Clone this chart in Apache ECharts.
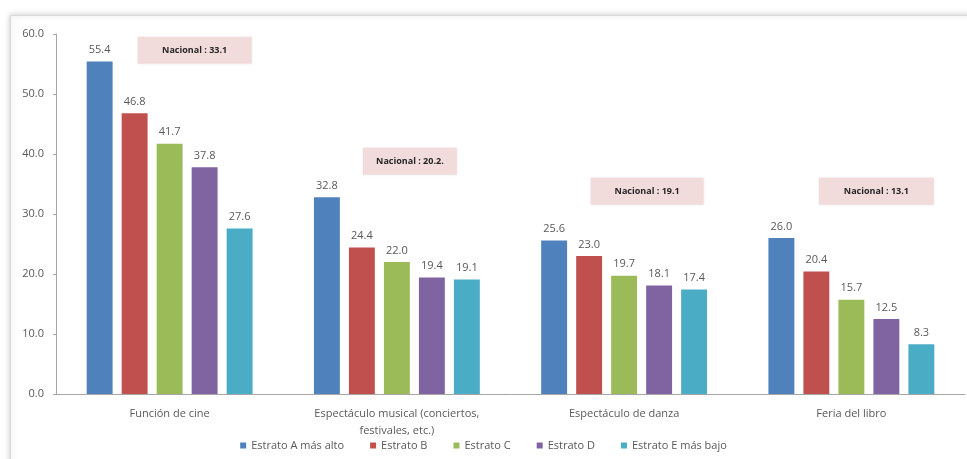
<!DOCTYPE html>
<html><head><meta charset="utf-8">
<script src="https://cdn.jsdelivr.net/npm/echarts@6/dist/echarts.min.js"></script>
<style>html,body{margin:0;padding:0;background:#fff}#c{width:967px;height:459px}</style>
</head><body><div id="c"></div>
<script>
const categories = ['Función de cine', 'Espectáculo musical (conciertos,\nfestivales, etc.)', 'Espectáculo de danza', 'Feria del libro'];
const seriesNames = ['Estrato A más alto', 'Estrato B', 'Estrato C', 'Estrato D', 'Estrato E más bajo'];
const estratoA = [55.4, 32.8, 25.6, 26.0];
const estratoB = [46.8, 24.4, 23.0, 20.4];
const estratoC = [41.7, 22.0, 19.7, 15.7];
const estratoD = [37.8, 19.4, 18.1, 12.5];
const estratoE = [27.6, 19.1, 17.4, 8.3];
const nacionalLabels = ['Nacional : 33.1', 'Nacional : 20.2.', 'Nacional : 19.1', 'Nacional : 13.1'];
const yTicks = [0, 10, 20, 30, 40, 50, 60];

const colors = ['#4F81BD', '#C0504D', '#9BBB59', '#8064A2', '#4BACC6'];
const values = [estratoA, estratoB, estratoC, estratoD, estratoE];
const font = 'Open Sans, Liberation Sans, sans-serif';

// annotation placement (data coords + pixel offsets from the first bar of each group)
const boxPlace = [
  {y: 57.3, dx: 95, w: 114},
  {y: 38.8, dx: 83, w: 94},
  {y: 33.8, dx: 93, w: 113},
  {y: 33.8, dx: 95, w: 115}
];

const series = values.map((v, i) => ({
  name: seriesNames[i],
  type: 'bar',
  data: v,
  barGap: '35%',
  barCategoryGap: '27%',
  itemStyle: {color: colors[i]},
  label: {show: true, position: 'top', distance: 6, formatter: p => p.value.toFixed(1),
          color: '#595959', fontSize: 11, fontFamily: font},
  markPoint: i === 0 ? {
    silent: true,
    data: nacionalLabels.map((t, k) => ({
      coord: [k, boxPlace[k].y],
      symbol: 'rect',
      symbolSize: [boxPlace[k].w, 27],
      symbolOffset: [boxPlace[k].dx, 0],
      itemStyle: {color: '#F2DCDB', shadowColor: 'rgba(0,0,0,0.12)', shadowBlur: 3},
      label: {show: true, formatter: t, color: '#262626',
              fontSize: 9, fontWeight: 'bold', fontFamily: font}
    }))
  } : undefined
}));

const chart = echarts.init(document.getElementById('c'));
chart.setOption({
  animation: false,
  backgroundColor: '#fff',
  graphic: [{
    type: 'rect', left: 10, top: 15, z: -10,
    shape: {width: 980, height: 470},
    style: {fill: '#fff', stroke: '#d9d9d9', lineWidth: 1, shadowColor: 'rgba(0,0,0,0.25)', shadowBlur: 6}
  }],
  grid: {left: 56, right: 2, top: 34, bottom: 65},
  legend: {
    bottom: 3, left: 'center', itemWidth: 6, itemHeight: 6, itemGap: 26,
    icon: 'rect',
    textStyle: {color: '#595959', fontSize: 11, fontFamily: font}
  },
  xAxis: {
    type: 'category', data: categories,
    axisLine: {lineStyle: {color: '#a6a6a6'}},
    axisTick: {show: false},
    axisLabel: {color: '#595959', fontSize: 11, fontFamily: font, lineHeight: 17, margin: 11}
  },
  yAxis: {
    type: 'value', min: yTicks[0], max: yTicks[yTicks.length - 1], interval: 10,
    axisLine: {show: true, lineStyle: {color: '#a6a6a6'}},
    axisTick: {show: true, length: 3, lineStyle: {color: '#a6a6a6'}},
    splitLine: {show: false},
    axisLabel: {color: '#595959', fontSize: 11, fontFamily: font, margin: 12, formatter: v => v.toFixed(1)}
  },
  series: series
});
</script></body></html>
